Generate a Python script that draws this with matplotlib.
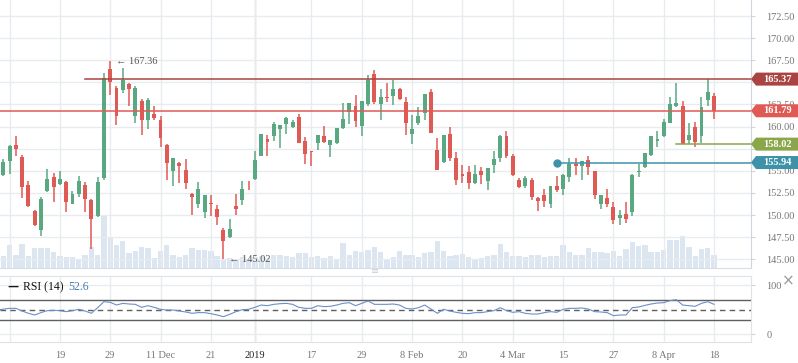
import numpy as np
import matplotlib
matplotlib.use("Agg")
import matplotlib.pyplot as plt
from matplotlib.patches import Polygon
from matplotlib.transforms import blended_transform_factory

plt.rcParams['font.family'] = ['Liberation Serif', 'DejaVu Sans']

# daily candles, index -1 .. 113 (last one = 18 Apr)
opens = [154.1, 154.5, 156.1, 157.9, 156.6, 153.4, 150.5, 148.3, 152.7, 154.3,
         153.5, 153.7, 151.3, 152.4, 153.4, 151.7, 149.9, 154.2, 166.5, 164.4,
         164.1, 164.8, 161.2, 162.9, 160.7, 161.4, 160.7, 157.9, 155.0, 155.9,
         155.1, 152.4, 151.2, 150.3, 151.4, 150.7, 148.3, 147.5, 151.0, 151.7,
         153.65, 154.1, 156.7, 158.6, 158.9, 159.7, 160.3, 159.9, 161.1, 158.4,
         157.2, 158.2, 158.9, 157.9, 158.1, 159.8, 161.6, 162.3, 160.1, 162.5,
         165.9, 162.5, 163.4, 163.5, 164.3, 162.8, 159.2, 160.4, 161.5, 163.9,
         157.4, 156.0, 159.2, 156.5, 154.7, 154.9, 153.6, 155.0, 153.9, 155.7,
         156.4, 158.9, 156.7, 154.0, 153.3, 154.0, 151.9, 152.3, 151.3, 153.3,
         153.0, 154.3, 155.8, 155.6, 156.2, 155.0, 151.3, 151.9, 150.9, 149.7,
         150.1, 150.3, 154.9, 155.4, 156.8, 158.4, 158.9, 160.4, 162.3, 162.3,
         158.5, 160.0, 158.9, 163.0, 163.5]
closes = [153.8, 156.0, 157.8, 157.5, 153.2, 151.0, 148.9, 151.8, 154.1, 153.2,
          154.1, 151.5, 152.4, 153.8, 151.8, 149.6, 153.7, 165.5, 165.0, 161.2,
          165.3, 164.2, 164.4, 160.7, 163.0, 161.0, 158.7, 155.9, 156.4, 155.5,
          153.6, 152.0, 152.9, 152.3, 151.2, 149.8, 147.1, 148.4, 150.7, 153.0,
          153.6, 156.2, 159.2, 158.3, 160.3, 160.2, 161.0, 160.5, 158.2, 156.9,
          157.1, 159.1, 158.3, 158.5, 159.8, 160.9, 162.7, 160.6, 162.9, 165.3,
          162.8, 163.3, 163.2, 164.3, 163.1, 160.4, 159.7, 161.2, 163.7, 159.3,
          155.1, 159.1, 156.5, 154.0, 154.4, 153.6, 154.7, 154.5, 155.3, 156.3,
          158.9, 156.7, 154.5, 153.2, 154.2, 152.0, 151.6, 151.6, 153.3, 152.8,
          154.5, 155.8, 155.5, 156.1, 155.4, 152.3, 152.3, 151.2, 149.5, 150.0,
          149.6, 154.5, 155.0, 157.0, 158.9, 158.6, 160.5, 162.6, 162.7, 158.05,
          159.1, 158.3, 162.2, 163.9, 161.79]
highs = [154.2, 156.3, 157.9, 158.9, 156.8, 153.8, 150.6, 152.1, 155.2, 154.8,
         155.0, 153.9, 152.7, 154.4, 153.7, 151.8, 154.3, 166.1, 167.36, 164.6,
         166.6, 164.9, 164.6, 163.1, 163.2, 162.3, 161.2, 158.0, 156.4, 156.0,
         156.3, 152.5, 153.7, 152.3, 152.3, 151.1, 148.5, 149.6, 152.4, 153.8,
         153.8, 157.3, 159.2, 159.1, 160.5, 160.2, 161.1, 160.8, 161.4, 158.8,
         157.2, 159.1, 160.1, 158.5, 159.8, 162.7, 162.7, 163.6, 162.9, 165.8,
         166.4, 164.3, 164.9, 165.3, 164.4, 163.4, 161.3, 162.2, 163.7, 164.3,
         158.7, 159.1, 159.9, 157.1, 155.7, 155.5, 155.7, 155.4, 155.3, 157.2,
         159.1, 159.5, 156.9, 154.2, 154.4, 154.2, 152.1, 152.9, 153.3, 154.4,
         154.7, 156.4, 156.4, 156.1, 156.7, 155.0, 152.3, 152.9, 151.5, 150.6,
         151.5, 154.7, 155.8, 157.0, 158.9, 159.5, 160.9, 163.3, 164.9, 162.9,
         160.4, 160.5, 163.3, 165.37, 163.8]
lows = [153.6, 154.4, 154.7, 156.7, 151.9, 150.9, 148.8, 147.6, 152.6, 151.5,
        153.4, 150.4, 151.2, 152.1, 150.4, 146.2, 149.8, 154.0, 163.6, 160.2,
        163.8, 162.3, 160.4, 159.0, 159.7, 160.7, 157.7, 154.0, 153.3, 153.6,
        153.0, 150.0, 150.8, 149.7, 149.9, 148.9, 145.02, 147.4, 150.0, 151.1,
        152.8, 154.0, 156.7, 156.7, 158.4, 157.6, 159.2, 159.8, 158.1, 155.8,
        155.6, 157.4, 158.1, 156.6, 158.0, 159.7, 160.3, 159.9, 158.9, 162.3,
        162.6, 160.8, 162.8, 162.4, 163.0, 159.1, 158.0, 160.2, 160.8, 159.3,
        155.1, 155.9, 156.1, 153.4, 153.6, 153.0, 153.5, 153.5, 152.8, 154.8,
        156.0, 156.4, 154.4, 153.1, 153.1, 151.7, 150.5, 150.9, 150.8, 152.6,
        152.3, 153.7, 154.5, 154.0, 154.5, 151.8, 150.7, 150.9, 149.0, 148.9,
        149.1, 149.9, 154.3, 155.3, 156.7, 157.7, 158.8, 160.4, 162.2, 158.02,
        158.0, 157.7, 158.1, 162.3, 160.9]
volume = [6.2, 6.2, 11.7, 6.7, 12.0, 6.2, 9.8, 10.2, 10.2, 7.8,
          6.2, 5.7, 5.3, 4.0, 6.7, 10.7, 6.7, 26.7, 15.2, 11.7,
          13.7, 7.3, 8.3, 10.7, 10.2, 4.8, 8.7, 11.5, 6.7, 5.7,
          6.7, 10.2, 9.0, 9.0, 8.3, 6.2, 4.5, 4.8, 4.5, 5.3,
          4.5, 5.3, 6.2, 5.0, 6.7, 6.7, 6.2, 5.3, 7.3, 7.3,
          5.3, 6.2, 5.0, 6.2, 4.5, 12.3, 6.7, 8.3, 7.8, 9.0,
          10.7, 7.8, 4.5, 5.7, 8.3, 6.7, 6.7, 5.3, 7.3, 7.8,
          13.3, 8.3, 6.2, 6.7, 7.0, 5.3, 4.5, 4.8, 6.2, 6.7,
          12.0, 7.8, 5.8, 6.2, 5.7, 6.7, 6.7, 5.3, 5.8, 6.2,
          11.7, 7.8, 6.7, 6.7, 9.8, 7.8, 7.8, 7.5, 8.7, 5.8,
          9.5, 12.8, 10.8, 11.7, 7.8, 7.8, 9.0, 14.0, 14.0, 15.8,
          10.3, 6.2, 9.5, 9.8, 6.7]
rsi = [49.3, 51.0, 52.7, 52.7, 47.3, 42.6, 39.2, 44.0, 48.0, 48.6,
       48.0, 46.0, 48.0, 50.7, 47.3, 42.6, 54.0, 66.2, 64.9, 59.4,
       62.8, 61.5, 60.8, 54.7, 58.1, 54.7, 50.7, 49.3, 49.3, 47.3,
       45.3, 42.6, 44.0, 44.0, 41.9, 39.2, 35.8, 40.5, 46.0, 50.0,
       50.7, 54.7, 59.4, 58.1, 60.8, 62.1, 62.8, 60.8, 54.7, 52.7,
       52.7, 58.1, 56.1, 56.8, 59.4, 62.8, 64.2, 58.1, 62.8, 67.6,
       60.8, 60.8, 60.8, 61.5, 59.4, 52.7, 51.3, 54.0, 59.4, 51.3,
       42.6, 50.7, 47.3, 44.6, 42.6, 41.9, 44.0, 44.0, 46.0, 48.0,
       54.0, 48.0, 44.6, 46.0, 42.6, 41.2, 41.2, 44.0, 46.0, 44.6,
       50.7, 52.7, 52.7, 53.4, 51.3, 46.0, 45.3, 44.0, 37.8, 39.2,
       39.2, 54.0, 55.4, 58.7, 61.5, 63.5, 64.2, 68.3, 70.3, 59.4,
       58.1, 56.8, 62.8, 66.2, 60.8]

tick_idx = [9, 17, 25, 33, 40, 49, 57, 65, 73, 81, 89, 97, 105, 113]
tick_labels = ['19', '29', '11 Dec', '21', '2019', '17', '29', '8 Feb',
               '20', '4 Mar', '15', '27', '8 Apr', '18']

price_ticks = [145.0, 147.5, 150.0, 152.5, 155.0, 160.0, 162.5,
               167.5, 170.0, 172.5]

levels = [165.37, 161.79, 158.02, 155.94]
level_start = [13, -1, 107, 88]
level_colors = ['#a94442', '#e05a55', '#8aa64a', '#3d92aa']

green = '#5aa882'
red = '#e05a55'
grid_c = '#e8ebef'
txt_c = '#777777'

x = np.arange(len(opens)) - 1
o = np.array(opens); c = np.array(closes)
h = np.array(highs); l = np.array(lows)
up = c >= o
cols = np.where(up, green, red)

W, H = 798, 363
fig = plt.figure(figsize=(W / 100, H / 100), dpi=100)
xlim = (-0.52, 118.87)

# volume panel behind price
ax_v = fig.add_axes([0, 1 - 268 / H, 751 / W, 268 / H])
ax_v.bar(x, volume, width=0.85, color='#dbe6f1', zorder=1)
ax_v.set_xlim(*xlim)
ax_v.set_ylim(0, 134)
ax_v.axis('off')

ax = fig.add_axes([0, 1 - 268 / H, 751 / W, 268 / H])
ax.set_zorder(ax_v.get_zorder() + 1)
ax.patch.set_visible(False)
ax.set_xlim(*xlim)
ax.set_ylim(144.02, 174.31)

ax.vlines(x, l, h, colors=cols, linewidth=1.1, zorder=3)
ax.bar(x, np.maximum(np.abs(c - o), 0.08), bottom=np.minimum(o, c),
       width=0.62, color=cols, zorder=4)

# gridlines every 2.5, labels only where no tag covers them
ax.set_yticks(np.arange(145, 173, 2.5), minor=True)
ax.set_yticks(price_ticks)
ax.yaxis.tick_right()
ax.tick_params(axis='y', which='both', length=3, color='#cfd5dc',
               labelsize=7.5, labelcolor=txt_c, pad=8)
ax.yaxis.set_major_formatter(matplotlib.ticker.FormatStrFormatter('%.2f'))
ax.set_xticks([1] + tick_idx)
ax.tick_params(axis='x', length=0, labelbottom=False)
ax.grid(True, which='both', color=grid_c, linewidth=1)
ax.set_axisbelow(True)
for s in ['top', 'left']:
    ax.spines[s].set_visible(False)
ax.spines['right'].set_color('#cfd5dc')
ax.spines['bottom'].set_color('#d5dde5')
ax.axvline(40, color='#d2d5da', linewidth=1, zorder=0.5)

# horizontal levels and price tags
tr = blended_transform_factory(fig.transFigure, ax.transData)
hh = 6.5 / 8.847
for v, s, col in zip(levels, level_start, level_colors):
    ax.plot([s, xlim[1]], [v, v], color=col, linewidth=1.1, zorder=5)
    pts = [(751 / W, v), (756 / W, v + hh), (1.0, v + hh), (1.0, v - hh),
           (756 / W, v - hh)]
    ax.add_patch(Polygon(pts, closed=True, transform=tr, facecolor=col,
                         edgecolor='none', clip_on=False, zorder=10))
    ax.text(777 / W, v, '%.2f' % v, transform=tr, ha='center', va='center',
            color='white', fontsize=7.5, fontweight='bold', zorder=11)
ax.plot([88], [155.94], 'o', color='#3d92aa', markersize=5, zorder=6)

# high / low marks
ax.annotate('\u2190 167.36', xy=(17, 167.36), xytext=(4, 0),
            textcoords='offset points', ha='left', va='center',
            fontsize=7.5, color='#555555')
ax.annotate('\u2190 145.02', xy=(35, 145.02), xytext=(4, 0),
            textcoords='offset points', ha='left', va='center',
            fontsize=7.5, color='#555555')

fig.text(375 / W, 1 - 271 / H, '\u2261', ha='center', va='center',
         fontsize=7, color='#c8ced6', family=['DejaVu Sans'])

# RSI panel
ax_r = fig.add_axes([0, 1 - 342.3 / H, 751 / W, 66.6 / H])
ax_r.set_xlim(*xlim)
ax_r.set_ylim(-16.2, 118.9)
ax_r.plot(x, rsi, color='#6b8fc9', linewidth=0.8, zorder=4)
ax_r.axhline(70, color='#606060', linewidth=1, zorder=3)
ax_r.axhline(30, color='#606060', linewidth=1, zorder=3)
ax_r.axhline(50, color='#606060', linewidth=1, linestyle=(0, (4, 3)), zorder=3)
ax_r.set_yticks([0, 100])
ax_r.yaxis.tick_right()
ax_r.tick_params(axis='y', length=3, color='#cfd5dc', labelsize=7.5,
                 labelcolor=txt_c, pad=8)
ax_r.set_xticks(tick_idx)
ax_r.set_xticklabels(tick_labels)
ax_r.tick_params(axis='x', length=0, labelsize=7.5, labelcolor=txt_c, pad=6)
for lab in ax_r.get_xticklabels():
    if lab.get_text() == '2019':
        lab.set_color('#222222')
ax_r.grid(True, color=grid_c, linewidth=1)
ax_r.axvline(40, color='#d2d5da', linewidth=1, zorder=0.5)
ax_r.axvline(1, color=grid_c, linewidth=1, zorder=0.5)
ax_r.set_axisbelow(True)
ax_r.spines['left'].set_visible(False)
for s in ['top', 'bottom', 'right']:
    ax_r.spines[s].set_color('#dfe3e8')

fig.text(7 / W, 1 - 287 / H, '\u2014', fontsize=8, color='#111111',
         va='center', fontweight='bold', family=['DejaVu Sans'])
fig.text(23 / W, 1 - 287 / H, 'RSI (14)', fontsize=8.5, color='#111111',
         va='center')
fig.text(68 / W, 1 - 287 / H, '52.6', fontsize=8.5, color='#4a78b8',
         va='center')
fig.text(788 / W, 1 - 281 / H, '\u00d7', fontsize=11, color='#999999',
         ha='center', va='center', family=['DejaVu Sans'])

fig.savefig('out.png', dpi=100)
